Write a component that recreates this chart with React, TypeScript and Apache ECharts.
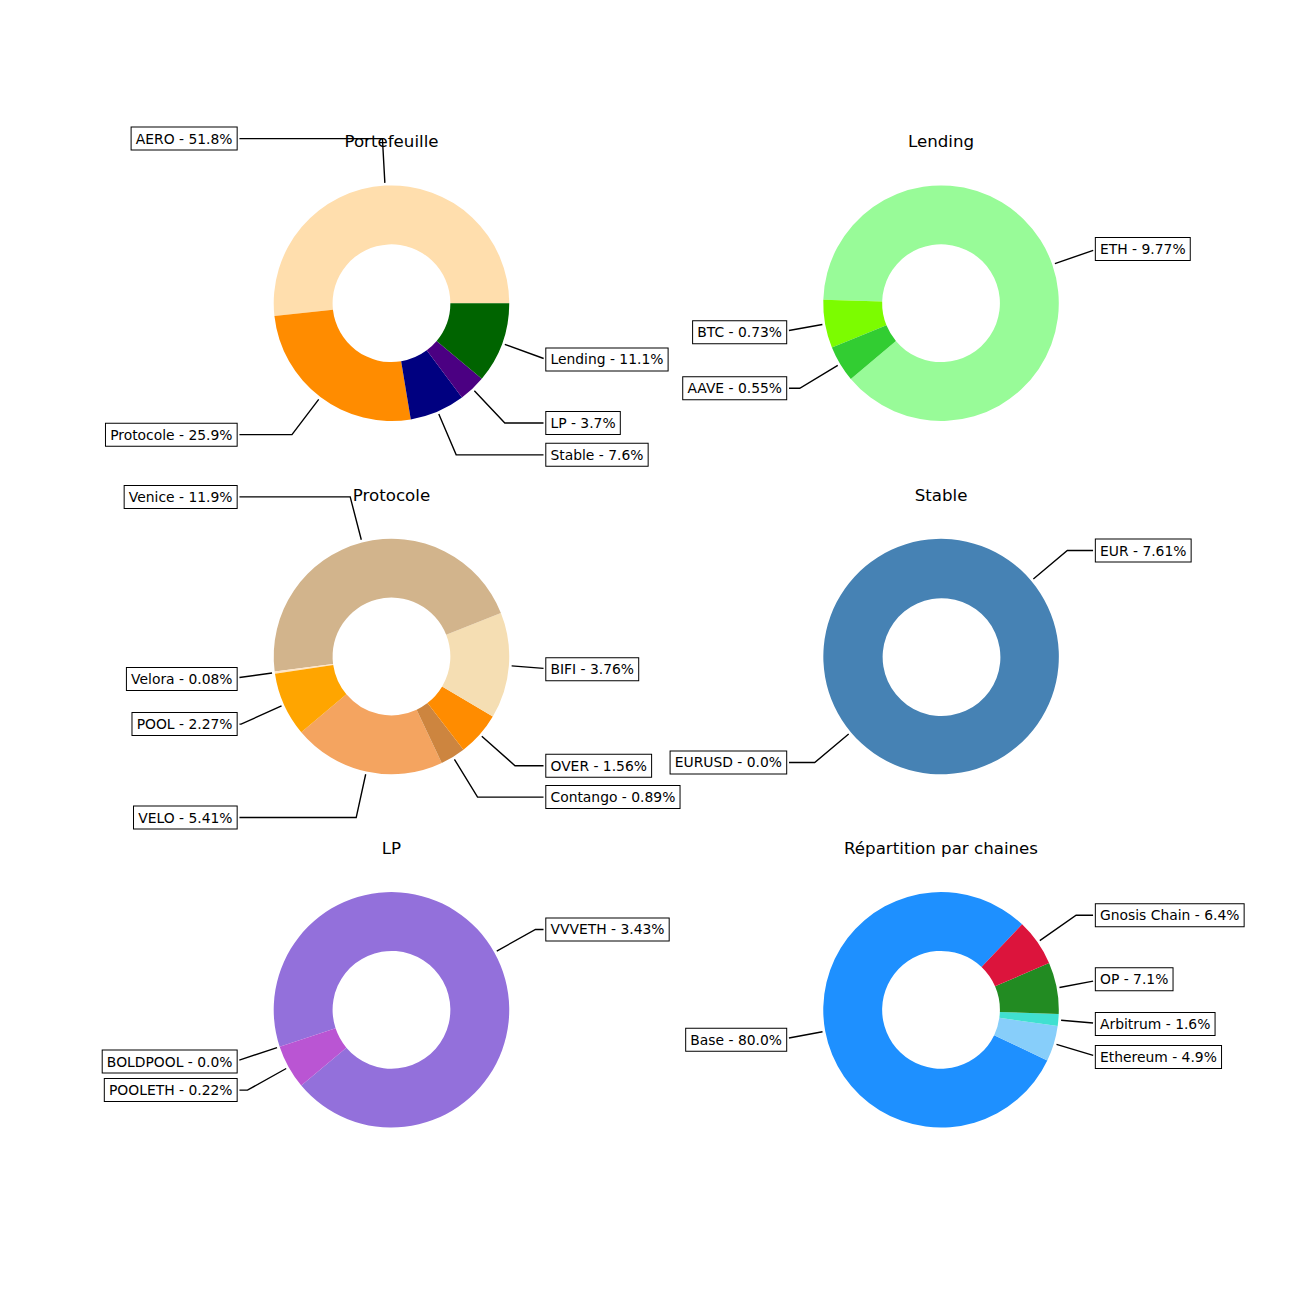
import React, { useEffect, useRef } from "react";
import * as echarts from "echarts";

// ---------- data ----------
const titles = ["Portefeuille", "Lending", "Protocole", "Stable", "LP", "Répartition par chaines"];

const portNames = ["AERO", "Protocole", "Stable", "LP", "Lending"];
const portValues = [51.8, 25.9, 7.6, 3.7, 11.1];
const portColors = ["#FFDEAD", "#FF8C00", "#000080", "#4B0082", "#006400"];
const portStart = 0;

const lendNames = ["ETH", "BTC", "AAVE"];
const lendValues = [9.77, 0.73, 0.55];
const lendColors = ["#98FB98", "#7CFC00", "#32CD32"];
const lendStart = 220;

const protoNames = ["VELO", "Contango", "OVER", "BIFI", "Venice", "Velora", "POOL"];
const protoValues = [5.41, 0.89, 1.56, 3.76, 11.9, 0.08, 2.27];
const protoColors = ["#F4A460", "#CD853F", "#FF8C00", "#F5DEB3", "#D2B48C", "#FFE4C4", "#FFA500"];
const protoStart = 220;

const stableNames = ["EUR", "EURUSD"];
const stableValues = [7.61, 0.0];
const stableColors = ["#4682B4", "#B0C4DE"];
const stableStart = 220;

const lpNames = ["VVVETH", "BOLDPOOL", "POOLETH"];
const lpValues = [3.43, 0.0, 0.22];
const lpColors = ["#9370DB", "#DDA0DD", "#BA55D3"];
const lpStart = 220;

const chainNames = ["Base", "Ethereum", "Arbitrum", "OP", "Gnosis Chain"];
const chainValues = [80.0, 4.9, 1.6, 7.1, 6.4];
const chainColors = ["#1E90FF", "#87CEFA", "#40E0D0", "#228B22", "#DC143C"];
const chainStart = 46.5;

const charts = [
  { names: portNames, values: portValues, colors: portColors, start: portStart },
  { names: lendNames, values: lendValues, colors: lendColors, start: lendStart },
  { names: protoNames, values: protoValues, colors: protoColors, start: protoStart },
  { names: stableNames, values: stableValues, colors: stableColors, start: stableStart },
  { names: lpNames, values: lpValues, colors: lpColors, start: lpStart },
  { names: chainNames, values: chainValues, colors: chainColors, start: chainStart },
];

// ---------- layout (matplotlib-like subplot grid) ----------
const W = 1300;
const H = 1300;
const leftX = 0.125 * W;
const rightX = 0.9 * W;
const topY = (1 - 0.88) * H;
const bottomY = (1 - 0.11) * H;
const colW = (rightX - leftX) / 2.2;
const rowH = (bottomY - topY) / 3.4;
const side = Math.min(colW, rowH);
const R = side / 2.5;
const R0 = R * 0.5;
const PT = 100 / 72;
const LABEL_FS = 10 * PT;
const TITLE_FS = 12 * PT;
const PAD = 0.3 * LABEL_FS;
const BOX_HALF = 11;
const SHRINK = 2 * PT;
const FONT = '"DejaVu Sans", "Liberation Sans", sans-serif';

function pyStr(v: number): string {
  return Number.isInteger(v) ? v.toFixed(1) : String(v);
}

function move(a: number[], b: number[], d: number): number[] {
  const dx = b[0] - a[0];
  const dy = b[1] - a[1];
  const L = Math.hypot(dx, dy);
  if (L === 0) return a;
  const t = Math.min(d / L, 1);
  return [a[0] + dx * t, a[1] + dy * t];
}

export default function App() {
  const ref = useRef<HTMLDivElement>(null);

  useEffect(() => {
    document.body.style.margin = "0";
    if (!ref.current) return;
    const chart = echarts.init(ref.current, null, { renderer: "svg" });

    const series: any[] = [];
    const graphic: any[] = [];

    charts.forEach((c, i) => {
      const col = i % 2;
      const row = Math.floor(i / 2);
      const cx = leftX + col * colW * 1.2 + colW / 2;
      const cy = topY + row * rowH * 1.2 + rowH / 2;
      const axTop = cy - side / 2;

      series.push({
        type: "pie",
        center: [cx, cy],
        radius: [R0, R],
        startAngle: c.start,
        clockwise: false,
        silent: true,
        minAngle: 0,
        avoidLabelOverlap: false,
        stillShowZeroSum: true,
        label: { show: false },
        labelLine: { show: false },
        emphasis: { disabled: true },
        itemStyle: { borderWidth: 0 },
        data: c.names.map((n, k) => ({
          name: n,
          value: c.values[k],
          itemStyle: { color: c.colors[k] },
        })),
      });

      graphic.push({
        type: "text",
        x: cx,
        y: axTop - 6 * PT - 0.346 * TITLE_FS,
        z: 10,
        style: {
          text: titles[i],
          font: `${TITLE_FS}px ${FONT}`,
          fill: "#000",
          align: "center",
          verticalAlign: "middle",
        },
      });

      const total = c.values.reduce((a, b) => a + b, 0);
      let cum = 0;
      c.names.forEach((n, k) => {
        const th1 = c.start + (360 * cum) / total;
        cum += c.values[k];
        const th2 = c.start + (360 * cum) / total;
        const ang = ((th1 + th2) / 2) * (Math.PI / 180);
        const ux = Math.cos(ang);
        const uy = Math.sin(ang);
        const sgn = ux < 0 ? -1 : 1;
        const tx = cx + 1.35 * sgn * R;
        const ty = cy - 1.4 * uy * R;
        const xy = [cx + ux * R, cy - uy * R];
        const corner = [cx + 1.4 * ux * R, cy - 1.4 * uy * R];
        const xe = sgn < 0 ? tx + PAD : tx - PAD;
        let pts: number[][];
        const outside = sgn < 0 ? corner[0] > xe : corner[0] < xe;
        if (outside) {
          pts = [[xe, ty], corner, xy];
        } else {
          const cands: number[] = [];
          const dx = xy[0] - corner[0];
          const dy = xy[1] - corner[1];
          if (dx !== 0) {
            const t = (xe - corner[0]) / dx;
            if (t >= 0) cands.push(t);
          }
          if (dy !== 0) {
            const tt = (ty - BOX_HALF - corner[1]) / dy;
            const tb = (ty + BOX_HALF - corner[1]) / dy;
            if (tt >= 0) cands.push(tt);
            if (tb >= 0) cands.push(tb);
          }
          const t = cands.length ? Math.min(...cands) : 0;
          pts = [[corner[0] + dx * t, corner[1] + dy * t], xy];
        }
        const p = pts.map((q) => [...q]);
        p[0] = move(p[0], p[1], SHRINK);
        const m = p.length;
        p[m - 1] = move(p[m - 1], p[m - 2], SHRINK);

        graphic.push({
          type: "polyline",
          z: 5,
          shape: { points: p },
          style: { stroke: "#000", lineWidth: 1 * PT, fill: null },
        });
        graphic.push({
          type: "text",
          z: 6,
          x: sgn < 0 ? tx + PAD : tx - PAD,
          y: ty,
          style: {
            text: `${n} - ${pyStr(c.values[k])}%`,
            font: `${LABEL_FS}px ${FONT}`,
            fill: "#000",
            align: sgn < 0 ? "right" : "left",
            verticalAlign: "middle",
            lineHeight: 2 * BOX_HALF - 2 * PAD,
            padding: [PAD, PAD, PAD, PAD],
            backgroundColor: "#fff",
            borderColor: "#000",
            borderWidth: 0.72 * PT,
          },
        });
      });
    });

    chart.setOption({
      animation: false,
      backgroundColor: "#fff",
      series,
      graphic,
    });

    return () => chart.dispose();
  }, []);

  return <div ref={ref} style={{ width: W, height: H }} />;
}
